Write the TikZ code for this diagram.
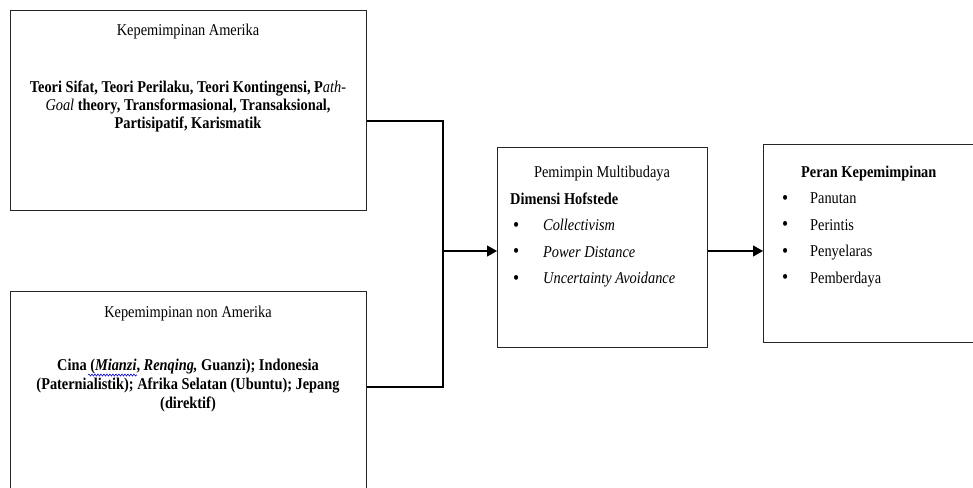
\documentclass[tikz,border=0pt]{standalone}
\usepackage{fontspec}
\setmainfont{Liberation Serif}[FakeStretch=0.87]
\usetikzlibrary{arrows.meta,decorations.pathmorphing}
\newcommand\blt[1]{\makebox[#1][l]{\fontsize{20}{20}\selectfont\raisebox{-0.5pt}{•}}}
\begin{document}
\begin{tikzpicture}[x=1pt,y=-1pt,
  box/.style={draw=black!85, line width=1.3pt, fill=white, anchor=north west, inner sep=0pt},
  txt/.style={inner sep=0pt, font=\fontsize{16.5}{18}\selectfont},
  body/.style={inner sep=0pt, anchor=north, align=center, font=\fontsize{16.5}{#1}\selectfont\bfseries},
  list/.style={inner sep=0pt, align=left, anchor=north west, font=\fontsize{16.5}{26.5}\selectfont},
  conn/.style={line width=1.2pt, draw=black},
  arr/.style={conn, -{Triangle[length=10pt,width=11pt]}},
  wavy/.style={draw=blue!80!black, line width=0.6pt, decorate, decoration={snake, amplitude=1pt, segment length=3pt}}]
\useasboundingbox (0,0) rectangle (973,487);
\clip (0,0) rectangle (973,487);
\fill[white] (0,0) rectangle (973,487);
% boxes
\node[box, minimum width=356pt, minimum height=200pt] (b1) at (10,10) {};
\node[box, minimum width=356pt, minimum height=240pt] (b2) at (10,291) {};
\node[box, minimum width=210pt, minimum height=200pt] (b3) at (497,147) {};
\node[box, minimum width=240pt, minimum height=198pt] (b4) at (763,144) {};
% texts box 1
\node[txt, anchor=base] (t1a) at (188,36) {Kepemimpinan Amerika};
\node[body=18] (t1b) at (188,81) {Teori Sifat, Teori Perilaku, Teori Kontingensi, P{\mdseries\itshape ath-}\\{\mdseries\itshape Goal} theory, Transformasional, Transaksional,\\Partisipatif, Karismatik};
% texts box 2
\node[txt, anchor=base] (t2a) at (188,317) {Kepemimpinan non Amerika};
\node[body=19] (t2b) at (188,358.5) {Cina (\textit{Mianzi}, \textit{Renqing,} Guanzi); Indonesia\\(Paternialistik); Afrika Selatan (Ubuntu); Jepang\\(direktif)};
\draw[wavy] (88,375) -- (137,375);
% texts box 3
\node[txt, anchor=base] (t3a) at (602,177) {Pemimpin Multibudaya};
\node[list] (t3b) at (510,192.5) {\textbf{Dimensi Hofstede}\\
  \hspace{3pt}\blt{30pt}\textit{Collectivism}\\
  \hspace{3pt}\blt{30pt}\textit{Power Distance}\\
  \hspace{3pt}\blt{30pt}\textit{Uncertainty Avoidance}};
% texts box 4
\node[list] (t4) at (782,165.5) {\hspace{19pt}\textbf{Peran Kepemimpinan}\\
  \blt{28pt}Panutan\\
  \blt{28pt}Perintis\\
  \blt{28pt}Penyelaras\\
  \blt{28pt}Pemberdaya};
% connectors
\coordinate (j1) at (443,121);
\coordinate (j2) at (443,387);
\coordinate (jm) at (443,251);
\draw[conn] (b1.east |- j1) -- (j1) -- (j2) -- (b2.east |- j2);
\draw[arr] (jm) -- (b3.west |- jm);
\draw[arr] (b3.east |- jm) -- (b4.west |- jm);
\end{tikzpicture}
\end{document}
